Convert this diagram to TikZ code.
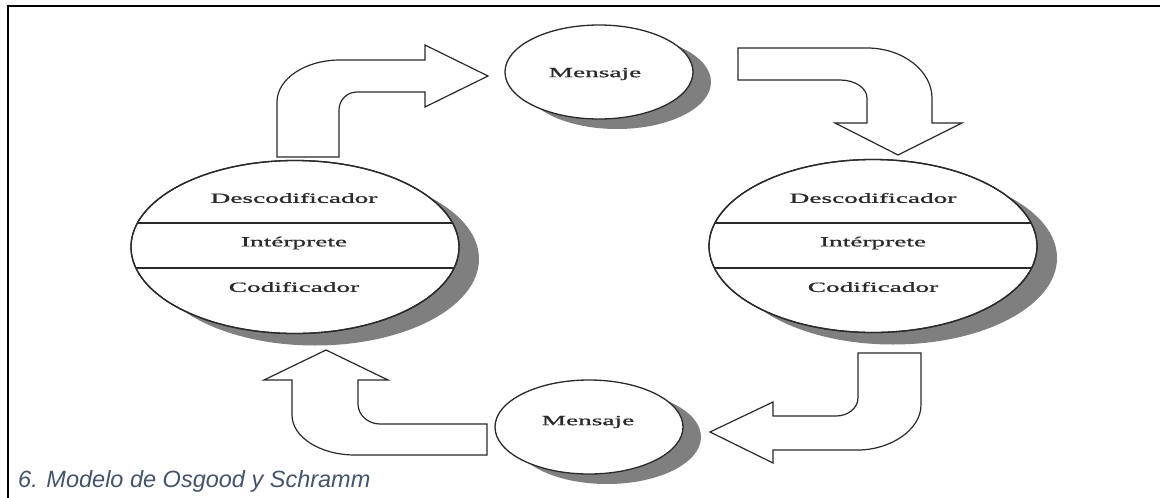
\documentclass[tikz,border=0pt]{standalone}
\usepackage{fontspec}
\setmainfont{Liberation Serif}
\newfontfamily\diagfont[FakeBold=0.8]{Liberation Serif}
\newfontfamily\capfont{Liberation Sans}
\usetikzlibrary{shapes.geometric,shadows}
\definecolor{capcol}{HTML}{44546A}
\definecolor{ink}{HTML}{2A2A2A}
\definecolor{shadowgray}{HTML}{7F7F7F}
\newcommand{\stx}[1]{\scalebox{1.95}[1]{#1}}
\tikzset{
  bigell/.style={ellipse, draw=ink, line width=1.3pt, fill=white, inner sep=0pt,
     minimum width=328pt, minimum height=173pt,
     drop shadow={shadow xshift=20pt, shadow yshift=-12pt, fill=shadowgray, opacity=1}},
  smallell/.style={ellipse, draw=ink, line width=1.3pt, fill=white, inner sep=0pt,
     minimum width=188pt, minimum height=94pt,
     drop shadow={shadow xshift=18pt, shadow yshift=-10pt, fill=shadowgray, opacity=1}},
  lbl/.style={text=ink, font=\diagfont\fontsize{14}{16}\selectfont, inner sep=0pt},
  blockarrow/.style={draw=ink, line width=1.2pt, fill=white, line join=miter},
  chord/.style={draw=ink, line width=1.2pt},
  framebar/.style={draw=black, line width=2.4pt}
}
\begin{document}
\begin{tikzpicture}[x=1pt,y=-1pt]
\useasboundingbox (0,0) rectangle (1160,498);
\fill[white] (0,0) rectangle (1160,498);
% frame
\draw[framebar] (8,498) -- (8,6) -- (1160,6);
% ellipses
\node[bigell] (L) at (295,247) {};
\node[bigell] (R) at (873,246) {};
\node[smallell] (MT) at (599,72) {};
\node[smallell] (MB) at (589,427) {};
% chords
\begin{scope}
  \clip (295,247) ellipse [x radius=164, y radius=86.5];
  \draw[chord] (100,223) -- (500,223);
  \draw[chord] (100,268) -- (500,268);
\end{scope}
\begin{scope}
  \clip (873,246) ellipse [x radius=164, y radius=86.5];
  \draw[chord] (680,223) -- (1080,223);
  \draw[chord] (680,268) -- (1080,268);
\end{scope}
\draw[draw=ink, line width=1.3pt] (295,247) ellipse [x radius=164, y radius=86.5];
\draw[draw=ink, line width=1.3pt] (873,246) ellipse [x radius=164, y radius=86.5];
% labels
\node[lbl] (Ld) at (294,198) {\stx{Descodificador}};
\node[lbl] (Li) at (294,243) {\stx{Intérprete}};
\node[lbl] (Lc) at (294,287) {\stx{Codificador}};
\node[lbl] (Rd) at (873,198) {\stx{Descodificador}};
\node[lbl] (Ri) at (873,243) {\stx{Intérprete}};
\node[lbl] (Rc) at (873,287) {\stx{Codificador}};
\node[lbl] (MTt) at (595,74) {\stx{Mensaje}};
\node[lbl] (MBt) at (588,422) {\stx{Mensaje}};
% top-left arrow (up then right)
\draw[blockarrow] (277,157) -- (277,102)
  .. controls (277,79) and (305,60) .. (340,60) -- (425,60) -- (425,45) -- (488,76)
  -- (425,107) -- (425,92) -- (357,92)
  .. controls (347,92) and (339,100) .. (339,110) -- (339,157) -- cycle;
% top-right arrow (right then down)
\draw[blockarrow] (738,48) -- (867,48)
  .. controls (903,48) and (932,71) .. (932,98) -- (932,123) -- (962,123) -- (898,155)
  -- (835,123) -- (867,123) -- (867,98)
  .. controls (867,88) and (855,80) .. (840,80) -- (738,80) -- cycle;
% bottom-right arrow (down then left)
\draw[blockarrow] (921,353) -- (921,405)
  .. controls (921,430) and (890,450) .. (858,450) -- (773,450) -- (773,463) -- (710,432)
  -- (773,402) -- (773,416) -- (836,416)
  .. controls (848,416) and (858,408) .. (858,398) -- (858,353) -- cycle;
% bottom-left arrow (left then up)
\draw[blockarrow] (487,424) -- (380,424)
  .. controls (368,424) and (358,415) .. (358,404) -- (358,380) -- (388,380) -- (326,350)
  -- (264,380) -- (292,380) -- (292,415)
  .. controls (292,437) and (320,455) .. (355,455) -- (487,455) -- cycle;
% caption
\node[anchor=base west, inner sep=0pt, text=capcol,
      font=\capfont\itshape\fontsize{23.5}{27}\selectfont] (cap) at (18,487) {6. Modelo de Osgood y Schramm};
\end{tikzpicture}
\end{document}
